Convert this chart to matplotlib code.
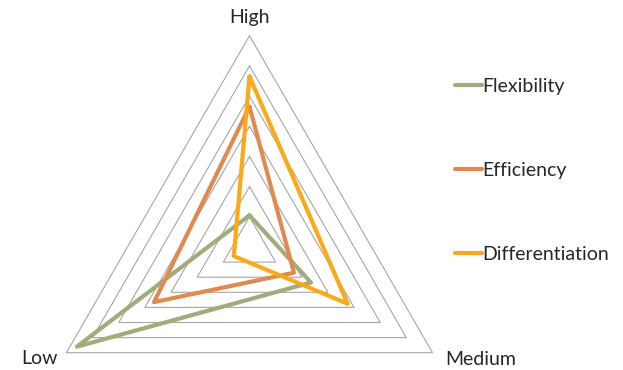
import numpy as np
import matplotlib.pyplot as plt

axes_labels = ['High', 'Medium', 'Low']
flexibility = [1.05, 2.35, 6.6]
efficiency = [4.65, 1.7, 3.65]
differentiation = [5.65, 3.75, 0.6]
grid_levels = [1, 2, 3, 4, 5, 6, 7]

series = [
    ('Flexibility', flexibility, '#9fad7b'),
    ('Efficiency', efficiency, '#e08a4f'),
    ('Differentiation', differentiation, '#fba919'),
]

# axis directions: High at top, then clockwise
angles = np.pi / 2 - np.arange(3) * 2 * np.pi / 3


def to_xy(values):
    v = np.append(values, values[0])
    a = np.append(angles, angles[0])
    return v * np.cos(a), v * np.sin(a)


plt.rcParams['font.family'] = ['Lato', 'DejaVu Sans']

fig = plt.figure(figsize=(6.23, 3.70), dpi=100)
ax = fig.add_axes([0.0127, 0.006, 0.7755, 0.979])
ax.set_xlim(-8, 8)
ax.set_ylim(-4, 8)
ax.axis('off')

for lvl in grid_levels:
    gx, gy = to_xy([lvl] * 3)
    ax.plot(gx, gy, color='#a6a6a6', linewidth=0.8, zorder=1)

handles = []
for name, vals, col in series:
    x, y = to_xy(vals)
    line, = ax.plot(x, y, color=col, linewidth=3, label=name,
                    solid_joinstyle='round', solid_capstyle='round', zorder=2)
    handles.append(line)

label_pos = [(0, 7.62), (7.67, -3.72), (-6.94, -3.68)]
for name, (tx, ty) in zip(axes_labels, label_pos):
    ax.text(tx, ty, name, ha='center', va='center', fontsize=14, color='#262626')

fig.legend(handles=handles, loc='upper left', bbox_to_anchor=(0.703, 0.837),
           frameon=False, fontsize=14, labelspacing=3.45, handlelength=1.35,
           handletextpad=0.05, labelcolor='#262626')

fig.savefig('out.png', dpi=100)
